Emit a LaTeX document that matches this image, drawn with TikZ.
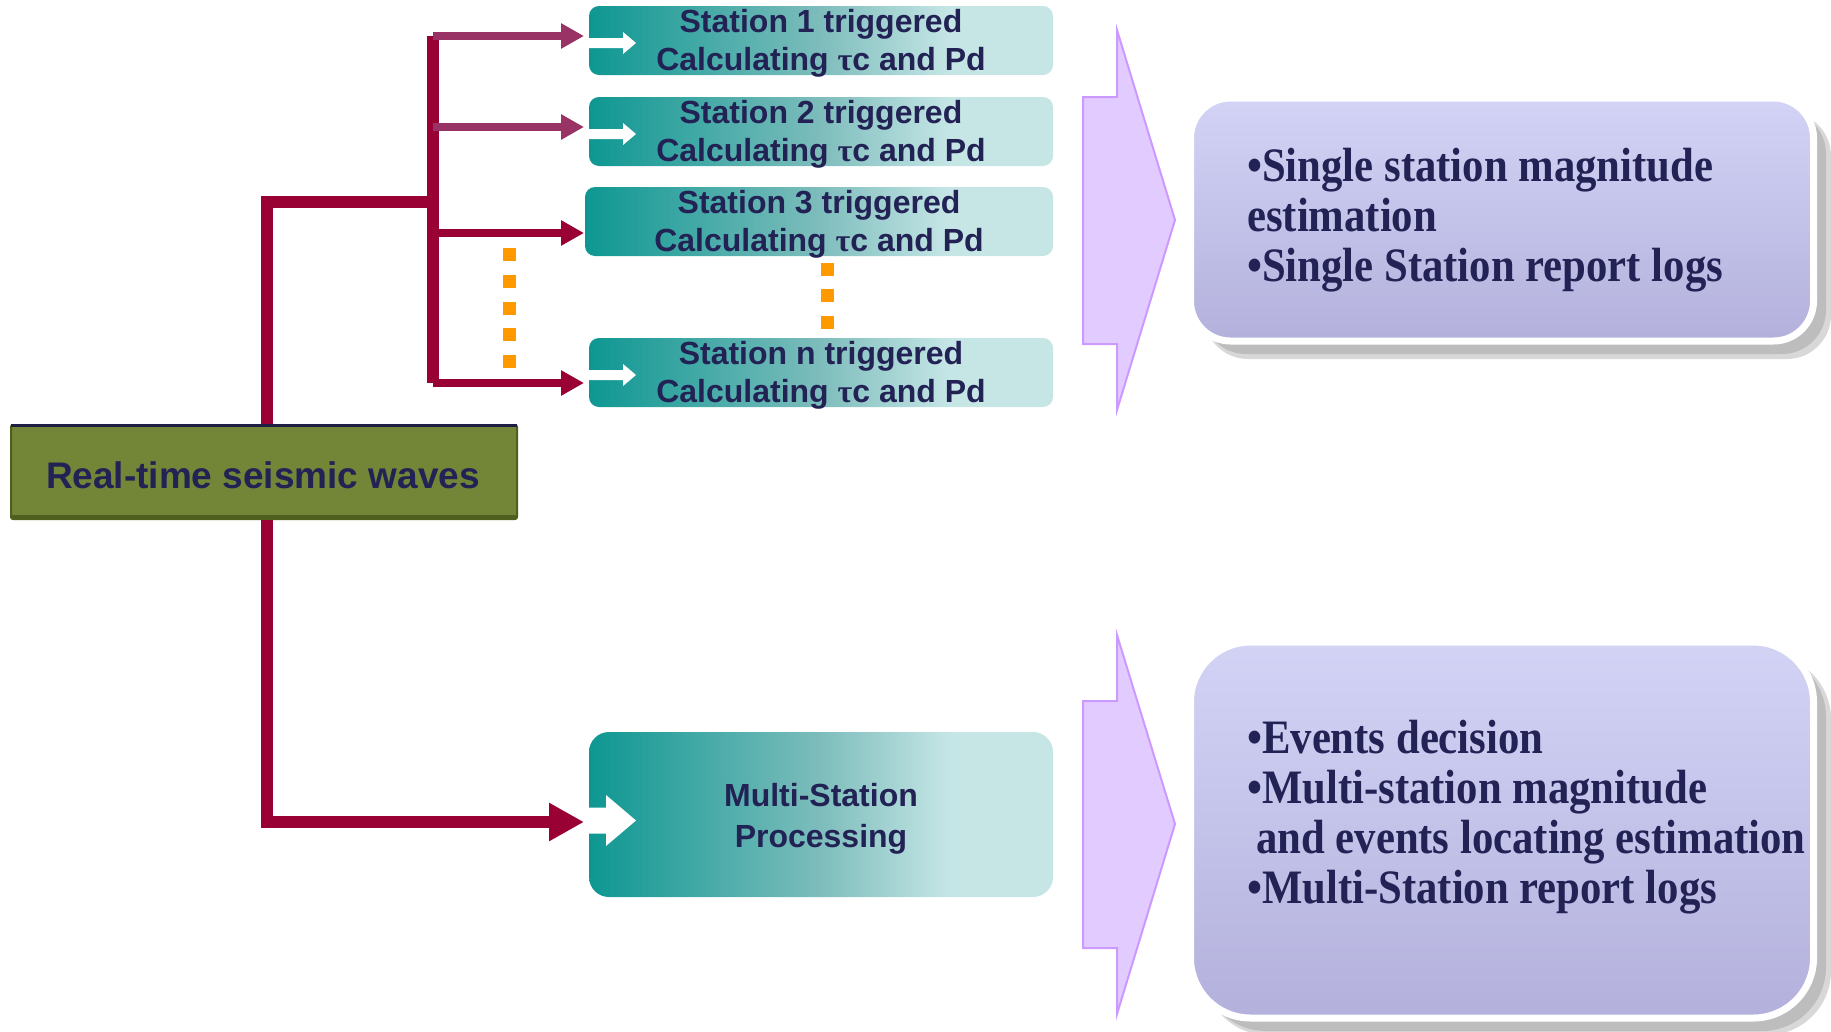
\documentclass[tikz,border=0pt]{standalone}
\usepackage{fontspec}
\setmainfont{Liberation Sans}
\newfontfamily\tnrfont[FakeStretch=0.89]{Liberation Serif}
\newfontfamily\greekfont{Liberation Serif}
\usetikzlibrary{arrows.meta}
\definecolor{conred}{HTML}{990033}
\definecolor{conpur}{HTML}{993366}
\definecolor{txtnavy}{HTML}{222255}
\definecolor{tealA}{HTML}{0E9792}
\definecolor{tealB}{HTML}{7DBDBC}
\definecolor{tealC}{HTML}{C6E6E6}
\definecolor{olive}{HTML}{738637}
\definecolor{olivedark}{HTML}{4E5F1E}
\definecolor{rtnavy}{HTML}{1E1E45}
\definecolor{dotorange}{HTML}{FF9900}
\definecolor{chevfill}{HTML}{E2CCFF}
\definecolor{chevdraw}{HTML}{CC99FF}
\definecolor{purtop}{HTML}{D3D3F6}
\definecolor{purbot}{HTML}{B3B1DC}
\definecolor{shadowA}{HTML}{D8D8D8}
\definecolor{shadowB}{HTML}{BDBDBD}
\pgfdeclarehorizontalshading{tealgrad}{100bp}{color(0bp)=(tealA); color(25bp)=(tealA); color(50bp)=(tealB); color(64bp)=(tealC); color(100bp)=(tealC)}
\newcommand\tauc{{\greekfont τ}}
\begin{document}
\begin{tikzpicture}[x=1pt,y=-1pt,
  stbox/.style={rectangle, rounded corners=10pt, shade, shading=tealgrad, minimum height=69pt, inner sep=0pt, outer sep=0pt, anchor=north west},
  sttext/.style={font=\fontsize{32}{38}\selectfont\bfseries, text=txtnavy, align=center, inner sep=0pt},
  conn/.style={draw=conred, line width=12pt},
  brA/.style={draw=conpur, line width=8pt, -{Triangle[length=23pt,width=24pt]}},
  brB/.style={draw=conred, line width=8pt, -{Triangle[length=23pt,width=24pt]}},
  chev/.style={fill=chevfill, draw=chevdraw, line width=2pt, line join=miter},
  pbox/.style={rectangle, top color=purtop, bottom color=purbot, draw=white, line width=7pt, inner sep=0pt, anchor=north west, minimum width=623pt},
  ptext/.style={font=\tnrfont\bfseries\fontsize{48}{50}\selectfont, text=txtnavy, align=left, inner sep=0pt, anchor=north west},
  orsq/.style={fill=dotorange},
  warrow/.style={fill=white}
]
\useasboundingbox (0,0) rectangle (1831,1031);

% chevron arrows
\draw[chev] (1083,97) -- (1117,97) -- (1117,30) -- (1175,220) -- (1117,410) -- (1117,344) -- (1083,344) -- cycle;
\draw[chev] (1083,701) -- (1117,701) -- (1117,635) -- (1175,824) -- (1117,1014) -- (1117,948) -- (1083,948) -- cycle;

% shadows of result boxes
\fill[shadowA, rounded corners=44pt] (1204,112) rectangle (1831,359);
\fill[shadowB, rounded corners=44pt] (1202,110) rectangle (1826,354);
\fill[shadowA, rounded corners=64pt] (1204,655) rectangle (1831,1035);
\fill[shadowB, rounded corners=64pt] (1202,653) rectangle (1826,1031);

% result boxes
\node[pbox, rounded corners=40pt, minimum height=243pt] (p1) at (1187,94.5) {};
\node[pbox, rounded corners=60pt, minimum height=376pt] (p2) at (1187,638.5) {};
\node[ptext] (p1t) at (1247,148) {•Single station magnitude\\estimation\\•Single Station report logs};
\node[ptext] (p2t) at (1247,720) {•Events decision\\•Multi-station magnitude\\\hspace*{9pt}and events locating estimation\\•Multi-Station report logs};

% connector coordinates
\coordinate (j1) at (267,202);
\coordinate (bj) at (433,202);
\coordinate (bt) at (433,36);
\coordinate (b2) at (433,127);
\coordinate (b3) at (433,233);
\coordinate (bn) at (433,383);
\coordinate (tipx) at (584,0);
\coordinate (j2) at (267,822);

% real-time box
\node[rectangle, anchor=north west, minimum width=506pt, minimum height=94pt, fill=olive, draw=olivedark, line width=2pt, rounded corners=2pt, inner sep=0pt] (rt) at (10,424) {};

% connectors
\draw[conn] (rt.north -| j1) -- (j1) -- (bj);
\draw[conn] (bt) -- (bn);
\draw[brA] (bt) -- (bt -| tipx);
\draw[brA] (b2) -- (b2 -| tipx);
\draw[brB] (b3) -- (b3 -| tipx);
\draw[brB] (bn) -- (bn -| tipx);
\draw[conn, -{Triangle[length=35pt,width=36pt]}] (rt.south -| j1) -- (j2) -- (j2 -| tipx);

\draw[rtnavy, line width=3pt] ([xshift=1pt,yshift=-1.5pt]rt.north west) -- ([xshift=-1pt,yshift=-1.5pt]rt.north east);
\draw[olivedark, line width=4pt] ([xshift=1pt,yshift=3pt]rt.south west) -- ([xshift=-1pt,yshift=3pt]rt.south east);
\node[font=\fontsize{37}{44}\selectfont\bfseries, text=txtnavy, anchor=base, inner sep=0pt] (rtt) at (263,488) {Real-time seismic waves};

% orange dots
\foreach \y in {254,281,308,334,361} \fill[orsq] (502.5,\y-6.5) rectangle +(13,13);
\foreach \y in {269,295,322} \fill[orsq] (820.5,\y-6.5) rectangle +(13,13);

% station boxes
\node[stbox, minimum width=464pt] (s1) at (589,6) {};
\node[stbox, minimum width=464pt] (s2) at (589,97) {};
\node[stbox, minimum width=468pt] (s3) at (585,187) {};
\node[stbox, minimum width=464pt] (sn) at (589,338) {};
\node[stbox, minimum width=464pt, minimum height=165pt, rounded corners=20pt] (ms) at (589,732) {};

\foreach \b in {s1,s2,sn}
  \fill[warrow, shift={(\b.west)}] (-1,-2.5) -- (34,-2.5) -- (34,-8.5) -- (47,2.5) -- (34,13.5) -- (34,7.5) -- (-1,7.5) -- cycle;
\fill[warrow, shift={(ms.west)}] (-1,-7) -- (17,-7) -- (17,-19.5) -- (47,6) -- (17,31.5) -- (17,19) -- (-1,19) -- cycle;

\node[sttext] (s1t) at ([yshift=-3pt]s1.center) {Station 1 triggered\\Calculating \tauc c and Pd};
\node[sttext] (s2t) at ([yshift=-3pt]s2.center) {Station 2 triggered\\Calculating \tauc c and Pd};
\node[sttext] (s3t) at ([yshift=-3pt]s3.center) {Station 3 triggered\\Calculating \tauc c and Pd};
\node[sttext] (snt) at ([yshift=-3pt]sn.center) {Station n triggered\\Calculating \tauc c and Pd};
\node[sttext, font=\fontsize{32}{41}\selectfont\bfseries] (mst) at ([yshift=-4pt]ms.center) {Multi-Station\\Processing};
\end{tikzpicture}
\end{document}
